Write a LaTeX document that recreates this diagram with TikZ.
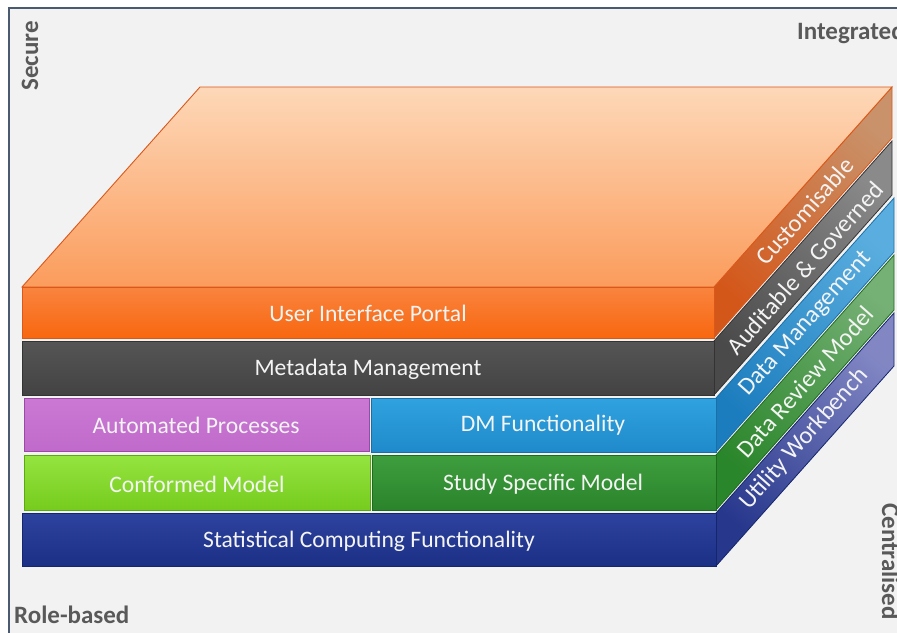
\documentclass[tikz,border=0pt]{standalone}
\usepackage{fontspec}
\setmainfont{Carlito}
\definecolor{bgc}{HTML}{F2F2F2}
\definecolor{framec}{HTML}{4A5A70}
\definecolor{axisc}{HTML}{595959}
\definecolor{txtc}{HTML}{F4F4F4}
% orange
\definecolor{orT}{HTML}{F9843F}\definecolor{orB}{HTML}{F8670F}\definecolor{orE}{HTML}{D9581A}
\definecolor{orTopA}{HTML}{FDD8B8}\definecolor{orTopB}{HTML}{FB9C5C}
\definecolor{orSA}{HTML}{C9926A}\definecolor{orSB}{HTML}{D4571A}
% gray
\definecolor{gyT}{HTML}{555555}\definecolor{gyB}{HTML}{434343}\definecolor{gyE}{HTML}{333333}
\definecolor{gySA}{HTML}{8A8A8A}\definecolor{gySB}{HTML}{4A4A4A}
% purple
\definecolor{puT}{HTML}{CB78D4}\definecolor{puB}{HTML}{C06BCB}\definecolor{puE}{HTML}{9A4AA6}
% blue
\definecolor{blT}{HTML}{30A2DF}\definecolor{blB}{HTML}{1F8ACB}\definecolor{blE}{HTML}{1A6FA8}
\definecolor{blSA}{HTML}{5AAEDF}\definecolor{blSB}{HTML}{1C7DBE}
% light green
\definecolor{lgT}{HTML}{95E440}\definecolor{lgB}{HTML}{76CC1E}\definecolor{lgE}{HTML}{5BA814}
% dark green
\definecolor{dgT}{HTML}{3E9E3E}\definecolor{dgB}{HTML}{2B842B}\definecolor{dgE}{HTML}{1F6A1F}
\definecolor{dgSA}{HTML}{75B075}\definecolor{dgSB}{HTML}{2A862A}
% navy
\definecolor{nvT}{HTML}{2E439E}\definecolor{nvB}{HTML}{1B2F86}\definecolor{nvE}{HTML}{15266E}
\definecolor{nvSA}{HTML}{8287C4}\definecolor{nvSB}{HTML}{27378C}
\newcommand\frontface[7]{% x1 x2 ytop ybot topcol botcol edge
  \shade[top color=#5,bottom color=#6] (#1,#3) rectangle (#2,#4);
  \draw[#7,line width=0.8pt] (#1,#3) rectangle (#2,#4);}
\newcommand\sideface[6]{% x ytop ybot topcol botcol edge
  \shade[top color=#4,bottom color=#5,shading angle=-40] (#1,#2) -- ({#1+178},{#2-200}) -- ({#1+178},{#3-200}) -- (#1,#3) -- cycle;
  \draw[#6,line width=0.8pt] (#1,#2) -- ({#1+178},{#2-200}) -- ({#1+178},{#3-200}) -- (#1,#3) -- cycle;}
\begin{document}
\begin{tikzpicture}[x=1pt,y=-1pt,
  lbl/.style={text=txtc,font=\fontsize{23.6}{28}\selectfont,inner sep=0pt},
  slbl/.style={text=txtc,font=\fontsize{24.5}{29}\selectfont,inner sep=0pt,rotate=48.3},
  axl/.style={text=axisc,font=\fontsize{25}{29}\selectfont\bfseries,inner sep=0pt}]
\useasboundingbox (0,0) rectangle (897,632);
\fill[white] (0,0) rectangle (897,632);
\fill[bgc] (9,8) rectangle (905,640);
\draw[framec,line width=1.5pt] (9,640) -- (9,8) -- (905,8);
% bottom layer: navy
\sideface{716}{513}{566}{nvSA}{nvSB}{nvE}
\frontface{22}{716}{513}{566}{nvT}{nvB}{nvE}
% row 4
\sideface{716}{455}{510}{dgSA}{dgSB}{dgE}
\frontface{24}{370}{455}{510}{lgT}{lgB}{lgE}
\frontface{372}{716}{455}{510}{dgT}{dgB}{dgE}
% row 3
\sideface{716}{398}{452}{blSA}{blSB}{blE}
\frontface{24}{369}{398}{451}{puT}{puB}{puE}
\frontface{371}{716}{398}{452}{blT}{blB}{blE}
% gray
\sideface{714}{341}{395}{gySA}{gySB}{gyE}
\frontface{22}{714}{341}{395}{gyT}{gyB}{gyE}
% orange
\sideface{714}{287}{338}{orSA}{orSB}{orE}
\shade[top color=orTopA,bottom color=orTopB] (22,287) -- (714,287) -- (892,87) -- (200,87) -- cycle;
\draw[orE,line width=0.9pt] (22,287) -- (714,287) -- (892,87) -- (200,87) -- cycle;
\frontface{22}{714}{287}{338}{orT}{orB}{orE}
% front labels
\node[lbl] (uip) at (368,313) {User Interface Portal};
\node[lbl] (mdm) at (368,369) {Metadata Management};
\node[lbl] (ap) at (196,425) {Automated Processes};
\node[lbl] (dmf) at (543,425) {DM Functionality};
\node[lbl] (cm) at (197,484) {Conformed Model};
\node[lbl] (ssm) at (543,484) {Study Specific Model};
\node[lbl] (scf) at (369,541) {Statistical Computing Functionality};
% side labels
\node[slbl] (cus) at (805,211) {Customisable};
\node[slbl] (aag) at (805,268) {Auditable \& Governed};
\node[slbl] (dm) at (806,324) {Data Management};
\node[slbl] (drm) at (805,382) {Data Review Model};
\node[slbl] (uw) at (804,439) {Utility Workbench};
% axis labels
\node[axl,rotate=90] (sec) at (30,56) {Secure};
\node[axl,anchor=west] (int) at (797,33) {Integrated};
\node[axl,anchor=west] (rb) at (14,615) {Role-based};
\node[axl,rotate=-90,anchor=base west] (cen) at (882,503) {Centralised};
\end{tikzpicture}
\end{document}
